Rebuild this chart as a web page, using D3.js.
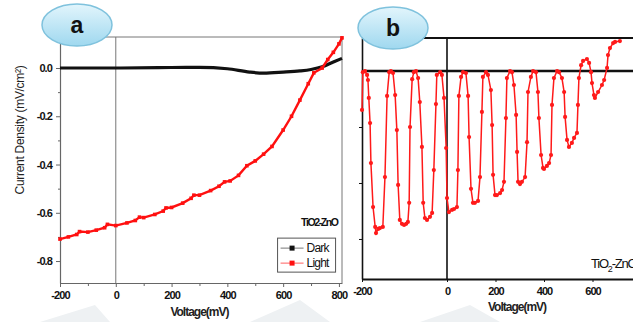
<!DOCTYPE html>
<html>
<head>
<meta charset="utf-8">
<script src="https://cdn.jsdelivr.net/npm/d3@7"></script>
<style>
  body { margin: 0; background: #fff; }
  svg { display: block; font-family: "Liberation Sans", Arial, sans-serif; }
  .tick text { font-weight: bold; font-size: 11px; letter-spacing: -0.9px; fill: #111; }
</style>
</head>
<body>
<div id="chart"></div>
<script>
// ---- panel a : J-V curves ----
const lightVoltage = [-200, -170, -140, -130, -100, -70, -40, -30, 0, 40, 70, 85, 100, 140, 170, 180, 200, 240, 270, 280,
  300, 340, 370, 390, 410, 440, 470, 500, 530, 560, 600, 630, 660, 690, 710, 740, 760, 780, 800, 811];
const lightCurrent = [-0.709, -0.700, -0.690, -0.678, -0.680, -0.672, -0.662, -0.648, -0.653, -0.642, -0.632, -0.618, -0.620,
  -0.607, -0.593, -0.580, -0.578, -0.560, -0.540, -0.527, -0.527, -0.508, -0.490, -0.472, -0.468, -0.445, -0.405, -0.385,
  -0.357, -0.325, -0.257, -0.200, -0.133, -0.065, -0.020, 0.000, 0.035, 0.065, 0.100, 0.125];
const darkVoltage = [-200, 0, 200, 300, 400, 480, 530, 600, 660, 700, 740, 780, 811];
const darkCurrent = [0.0, 0.0, 0.002, 0.003, -0.003, -0.017, -0.021, -0.017, -0.012, -0.006, 0.005, 0.025, 0.04];

const xTicksA = [-200, 0, 200, 400, 600, 800];
const xMinorA = [-100, 100, 300, 500, 700];
const yTicksA = [0, -0.2, -0.4, -0.6, -0.8];
const yMinorA = [-0.1, -0.3, -0.5, -0.7];
const legendNames = ['Dark', 'Light'];

// ---- panel b : chopped light ----
const chopVoltage = [
  -200, -198, -193, -188, -186, -184, -181, -179, -174, -169, -167, -162, -158, -151, -146, -141, -136, -132, -127,
  -122, -118, -115, -111, -106, -101, -96, -92, -89, -87, -82, -78, -73, -68,
  -64, -59, -56, -52, -47, -40, -35, -31, -26, -24, -16, -12,
  -7, -2, 0, 8, 21, 29, 41, 45, 49, 58, 66, 78,
  87, 91, 99, 107, 115, 128, 136, 144, 148, 161, 169,
  181, 186, 190, 198, 206, 219, 227, 235, 243, 247, 260, 268,
  276, 285, 289, 293, 301, 309, 322, 330, 334, 346, 355, 367,
  375, 379, 388, 396, 400, 412, 421, 429, 433, 441, 454, 462,
  474, 483, 487, 495, 503, 515, 524, 536, 540, 544, 553, 561, 577, 586, 594,
  598, 606, 610, 623, 639, 648, 660, 664, 672, 685, 693, 713];
const chopCurrent = [
  -0.139, -0.004, 0.000, -0.014, -0.032, -0.096, -0.186, -0.329, -0.486, -0.557, -0.579, -0.564, -0.561, -0.557, -0.379, -0.089, -0.004, 0.000, -0.007,
  -0.086, -0.211, -0.407, -0.532, -0.546, -0.550, -0.546, -0.539, -0.471, -0.200, -0.029, -0.004, 0.000, -0.025,
  -0.111, -0.271, -0.471, -0.525, -0.532, -0.521, -0.507, -0.354, -0.118, -0.014, -0.004, -0.014,
  -0.096, -0.275, -0.454, -0.504, -0.496, -0.493, -0.486, -0.354, -0.089, -0.021, -0.004, -0.007,
  -0.089, -0.236, -0.421, -0.471, -0.471, -0.464, -0.379, -0.146, -0.021, -0.004, -0.014,
  -0.068, -0.193, -0.371, -0.443, -0.443, -0.436, -0.425, -0.396, -0.168, -0.025, 0.000, -0.004,
  -0.050, -0.157, -0.289, -0.396, -0.404, -0.396, -0.379, -0.254, -0.075, -0.021, 0.000, -0.004,
  -0.075, -0.168, -0.300, -0.346, -0.350, -0.339, -0.329, -0.300, -0.121, -0.025, 0.000, -0.004,
  -0.025, -0.075, -0.164, -0.246, -0.271, -0.257, -0.239, -0.221, -0.121, -0.025, 0.021, 0.036, 0.043, 0.029, -0.004,
  -0.043, -0.086, -0.096, -0.075, -0.050, -0.032, 0.011, 0.057, 0.082, 0.100, 0.104, 0.107];

const xTicksB = [-200, 0, 200, 400, 600, 800];
const yTicksB = [-0.2, -0.4, -0.6];

const W = 633, H = 322;
const fmt = d => d3.format('.1f')(d).replace('\u2212', '-');
const fmtInt = d => String(d);

const svg = d3.select('#chart').append('svg')
  .attr('width', W)
  .attr('height', H);

const defs = svg.append('defs');
const grad = defs.append('linearGradient')
  .attr('id', 'bubble')
  .attr('x1', 0).attr('y1', 0).attr('x2', 0).attr('y2', 1);
grad.append('stop').attr('offset', '0%').attr('stop-color', '#e2f5fc');
grad.append('stop').attr('offset', '100%').attr('stop-color', '#9fd8ef');

// faint watermark shapes at the bottom
svg.append('path')
  .attr('d', 'M40,322 L95,305 L110,322 Z M250,322 L300,300 L330,322 Z M420,322 L470,305 L500,322 Z')
  .attr('fill', '#eef1f3');

// ****************** panel a ***************************
const xA = d3.scaleLinear().domain([-200, 811]).range([60, 342]);
const yA = d3.scaleLinear().domain([-0.891, 0.1285]).range([283, 37]);

const gA = svg.append('g');

// box
gA.append('line')
  .attr('x1', xA(-200)).attr('x2', xA(811))
  .attr('y1', yA(0.1285)).attr('y2', yA(0.1285))
  .attr('stroke', '#777').attr('stroke-width', 1);
gA.append('line')
  .attr('x1', xA(811)).attr('x2', xA(811))
  .attr('y1', yA(0.1285)).attr('y2', yA(-0.891))
  .attr('stroke', '#777').attr('stroke-width', 1);
gA.append('line')
  .attr('x1', xA(0)).attr('x2', xA(0))
  .attr('y1', yA(0.1285)).attr('y2', yA(-0.891))
  .attr('stroke', '#777').attr('stroke-width', 1);

const axisStyle = g => {
  g.select('.domain').attr('stroke', '#666').attr('stroke-width', 1.2);
  g.selectAll('.tick line').attr('stroke', '#666');
};

gA.append('g')
  .attr('transform', `translate(${xA(-200)},0)`)
  .call(d3.axisLeft(yA).tickValues(yTicksA).tickFormat(fmt).tickSize(4).tickSizeOuter(0).tickPadding(4))
  .call(axisStyle);
gA.append('g')
  .attr('transform', `translate(${xA(-200)},0)`)
  .call(d3.axisLeft(yA).tickValues(yMinorA).tickFormat('').tickSize(2).tickSizeOuter(0))
  .call(g => g.select('.domain').remove())
  .call(axisStyle);

gA.append('g')
  .attr('transform', `translate(0,${yA(-0.891)})`)
  .call(d3.axisBottom(xA).tickValues(xTicksA).tickFormat(fmtInt).tickSize(4).tickSizeOuter(0).tickPadding(4))
  .call(axisStyle);
gA.append('g')
  .attr('transform', `translate(0,${yA(-0.891)})`)
  .call(d3.axisBottom(xA).tickValues(xMinorA).tickFormat('').tickSize(3).tickSizeOuter(0))
  .call(g => g.select('.domain').remove())
  .call(axisStyle);

const lineA = d3.line()
  .x(d => xA(d[0]))
  .y(d => yA(d[1]));

const darkPts = darkVoltage.map((v, i) => [v, darkCurrent[i]]);
const lightPts = lightVoltage.map((v, i) => [v, lightCurrent[i]]);

gA.append('path')
  .datum(darkPts)
  .attr('d', lineA.curve(d3.curveMonotoneX))
  .attr('fill', 'none')
  .attr('stroke', '#111')
  .attr('stroke-width', 3.2);

gA.append('path')
  .datum(lightPts)
  .attr('d', lineA.curve(d3.curveLinear))
  .attr('fill', 'none')
  .attr('stroke', '#ff1010')
  .attr('stroke-width', 2.4);

gA.selectAll('rect.lm')
  .data(lightPts)
  .enter().append('rect')
  .attr('class', 'lm')
  .attr('x', d => xA(d[0]) - 1.8)
  .attr('y', d => yA(d[1]) - 1.8)
  .attr('width', 3.6)
  .attr('height', 3.6)
  .attr('fill', '#ff1010');

// labels
gA.append('text')
  .attr('transform', 'translate(24,130) rotate(-90)')
  .attr('text-anchor', 'middle')
  .attr('font-size', 12)
  .attr('letter-spacing', -0.3)
  .attr('fill', '#222')
  .text('Current Density (mV/cm\u00b2)');

gA.append('text')
  .attr('x', xA(300))
  .attr('y', 316)
  .attr('text-anchor', 'middle')
  .attr('font-size', 12)
  .attr('font-weight', 'bold')
  .attr('letter-spacing', -1)
  .attr('fill', '#222')
  .text('Voltage(mV)');

gA.append('text')
  .attr('x', xA(795))
  .attr('y', yA(-0.655))
  .attr('text-anchor', 'end')
  .attr('font-size', 10.5)
  .attr('font-weight', 'bold')
  .attr('letter-spacing', -1.4)
  .attr('fill', '#111')
  .text('TiO2-ZnO');

// legend
const legend = gA.append('g')
  .attr('transform', `translate(${xA(580)},${yA(-0.705)})`);
legend.append('rect')
  .attr('width', 58).attr('height', 34)
  .attr('fill', '#fff')
  .attr('stroke', '#555')
  .attr('stroke-width', 1);
const legendColors = ['#111', '#ff1010'];
legendNames.forEach((name, i) => {
  const ly = 10 + i * 15;
  legend.append('line')
    .attr('x1', 3).attr('x2', 26)
    .attr('y1', ly).attr('y2', ly)
    .attr('stroke', i === 0 ? '#777' : '#ff6060')
    .attr('stroke-width', 1);
  legend.append('rect')
    .attr('x', 12).attr('y', ly - 2.5)
    .attr('width', 5).attr('height', 5)
    .attr('fill', legendColors[i]);
  legend.append('text')
    .attr('x', 29).attr('y', ly + 4)
    .attr('font-size', 12)
    .attr('letter-spacing', -0.8)
    .attr('fill', '#111')
    .text(name);
});

// ****************** panel b ***************************
const xB = d3.scaleLinear().domain([-200, 0, 800]).range([362, 447, 641]);
const yB = d3.scaleLinear().domain([-0.743, 0.118]).range([279, 38]);

const gB = svg.append('g');

gB.append('line')
  .attr('x1', xB(-200)).attr('x2', W)
  .attr('y1', yB(0.118)).attr('y2', yB(0.118))
  .attr('stroke', '#111').attr('stroke-width', 2);
gB.append('line')
  .attr('x1', xB(-200)).attr('x2', W)
  .attr('y1', yB(0)).attr('y2', yB(0))
  .attr('stroke', '#111').attr('stroke-width', 2.4);
gB.append('line')
  .attr('x1', xB(0)).attr('x2', xB(0))
  .attr('y1', yB(0.118)).attr('y2', yB(-0.743))
  .attr('stroke', '#111').attr('stroke-width', 1.6);

gB.append('g')
  .attr('transform', `translate(${xB(-200)},0)`)
  .call(d3.axisLeft(yB).tickValues(yTicksB).tickFormat('').tickSize(3).tickSizeOuter(0))
  .call(g => g.select('.domain').attr('stroke', '#111').attr('stroke-width', 1.6))
  .call(g => g.selectAll('.tick line').attr('stroke', '#111'));

gB.append('g')
  .attr('transform', `translate(0,${yB(-0.743)})`)
  .call(d3.axisBottom(xB).tickValues(xTicksB).tickFormat(fmtInt).tickSize(3).tickSizeOuter(0).tickPadding(5))
  .call(g => g.select('.domain').attr('stroke', '#111').attr('stroke-width', 2))
  .call(g => g.selectAll('.tick line').attr('stroke', '#111'));

const chopPts = chopVoltage.map((v, i) => [v, chopCurrent[i]]);
const lineB = d3.line()
  .x(d => xB(d[0]))
  .y(d => yB(d[1]));

gB.append('path')
  .datum(chopPts)
  .attr('d', lineB)
  .attr('fill', 'none')
  .attr('stroke', '#ff1a1a')
  .attr('stroke-width', 1.5);

gB.selectAll('circle.cm')
  .data(chopPts)
  .enter().append('circle')
  .attr('class', 'cm')
  .attr('cx', d => xB(d[0]))
  .attr('cy', d => yB(d[1]))
  .attr('r', 2.1)
  .attr('fill', '#ff1a1a');

gB.append('text')
  .attr('x', 517)
  .attr('y', 311)
  .attr('text-anchor', 'middle')
  .attr('font-size', 12)
  .attr('font-weight', 'bold')
  .attr('letter-spacing', -1)
  .attr('fill', '#222')
  .text('Voltage(mV)');

const tio = gB.append('text')
  .attr('x', 591)
  .attr('y', 268)
  .attr('font-size', 13)
  .attr('letter-spacing', -1.2)
  .attr('fill', '#111');
tio.append('tspan').text('TiO');
tio.append('tspan').attr('font-size', 9).attr('dy', 4).text('2');
tio.append('tspan').attr('dy', -4).text('-ZnO');

// ****************** bubbles ***************************
const bubbles = [{label: 'a', cx: 77, cy: 25}, {label: 'b', cx: 393, cy: 28}];
const bub = svg.selectAll('g.bubble')
  .data(bubbles)
  .enter().append('g')
  .attr('class', 'bubble')
  .attr('transform', d => `translate(${d.cx},${d.cy})`);
bub.append('ellipse')
  .attr('rx', 35).attr('ry', 21)
  .attr('fill', 'url(#bubble)')
  .attr('stroke', '#7fc2dd')
  .attr('stroke-width', 1.5);
bub.append('text')
  .attr('y', 8)
  .attr('text-anchor', 'middle')
  .attr('font-size', 23)
  .attr('font-weight', 'bold')
  .attr('fill', '#111')
  .text(d => d.label);
</script>
</body>
</html>
